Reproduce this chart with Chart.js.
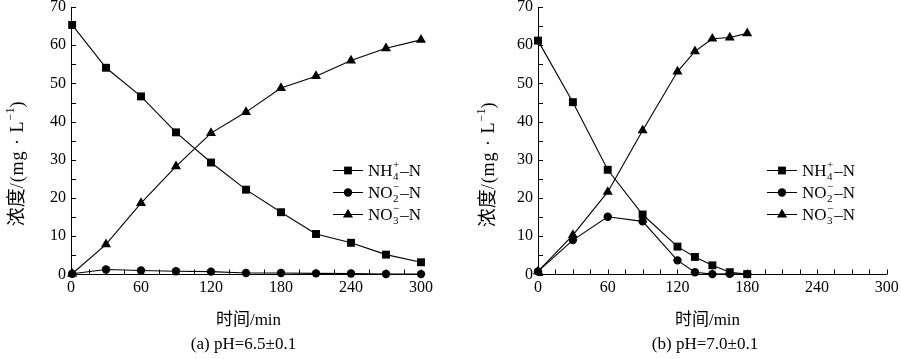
<!DOCTYPE html>
<html><head><meta charset="utf-8">
<script src="https://cdn.jsdelivr.net/npm/chart.js@4.4.0/dist/chart.umd.min.js"></script>
<style>
html,body{margin:0;padding:0;background:#fff;width:901px;height:359px;overflow:hidden;}
canvas{position:absolute;top:0;}
#c1{left:0;} #c2{left:450px;}
</style></head><body>
<canvas id="c1" width="450" height="359"></canvas>
<canvas id="c2" width="451" height="359"></canvas>
<script>
// ---- data ----
const timeA = [1, 30, 60, 90, 120, 150, 180, 210, 240, 270, 300];
const nh4A  = [65.3, 54.1, 46.6, 37.2, 29.3, 22.2, 16.3, 10.6, 8.3, 5.2, 3.2];
const no2A  = [0.2, 1.3, 1.05, 0.85, 0.75, 0.4, 0.4, 0.3, 0.25, 0.15, 0.1];
const no3A  = [0.2, 7.9, 18.7, 28.3, 37.0, 42.5, 48.8, 51.9, 56.0, 59.2, 61.4];

const timeB = [0, 30, 60, 90, 120, 135, 150, 165, 180];
const nh4B  = [61.2, 45.1, 27.4, 15.7, 7.3, 4.6, 2.4, 0.6, 0.1];
const no2B  = [0.8, 9.0, 15.1, 13.9, 3.7, 0.6, 0.1, 0.2, 0.1];
const no3B  = [0.8, 10.3, 21.6, 37.7, 53.1, 58.4, 61.7, 62.0, 63.1];

const xTickValues = [0, 60, 120, 180, 240, 300];
const yTickValues = [0, 10, 20, 30, 40, 50, 60, 70];
const legendBase = ['NH', 'NO', 'NO'];
const legendSub  = ['4', '2', '3'];
const legendSup  = ['+', '\u2212', '\u2212'];
const legendTail = '\u2013N';
const markerStyles = ['rect', 'circle', 'triangle'];
const xTitle = '时间/min';
const subTitles = ['(a) pH=6.5\u00b10.1', '(b) pH=7.0\u00b10.1'];

// ---- styling ----
const SERIF = "'Liberation Serif','Noto Sans CJK SC',serif";
const f = sz => sz + 'px ' + SERIF;
Chart.defaults.font.family = SERIF;
Chart.defaults.color = '#000';

function drawMarker(ctx, style, x, y) {
  ctx.beginPath();
  if (style === 'rect') ctx.rect(x - 3.9, y - 3.9, 7.8, 7.8);
  else if (style === 'circle') ctx.arc(x, y, 4.2, 0, Math.PI * 2);
  else { const r = 5.8; ctx.moveTo(x, y - r); ctx.lineTo(x + r * 0.866, y + r * 0.5); ctx.lineTo(x - r * 0.866, y + r * 0.5); ctx.closePath(); }
  ctx.fill();
}

function drawLegendLabel(ctx, x, y, base, sub, sup) {
  const yb = y + 6;
  ctx.textAlign = 'left'; ctx.textBaseline = 'alphabetic';
  ctx.font = f(17); ctx.fillText(base, x, yb);
  let cx = x + ctx.measureText(base).width + 0.5;
  ctx.font = f(11);
  const w1 = ctx.measureText(sub).width, w2 = ctx.measureText(sup).width;
  ctx.fillText(sub, cx, yb + 4);
  ctx.fillText(sup, cx, yb - 8);
  cx += Math.max(w1, w2) + 1;
  ctx.font = f(17); ctx.fillText(legendTail, cx, yb);
}

function drawYTitle(ctx, cx, cy) {
  const segs = [
    {t: '浓度', s: 19, dy: 0, sp: 0},
    {t: '/(mg \u00b7 L', s: 18, dy: 0, sp: 1},
    {t: '\u22121', s: 12, dy: -7, sp: 0},
    {t: ')', s: 18, dy: 0, sp: 0}
  ];
  ctx.save();
  ctx.translate(cx, cy); ctx.rotate(-Math.PI / 2);
  ctx.textBaseline = 'middle'; ctx.textAlign = 'left';
  let total = 0;
  segs.forEach(sg => {
    ctx.font = f(sg.s);
    sg.cw = Array.from(sg.t).map(ch => ctx.measureText(ch).width + sg.sp);
    sg.w = sg.cw.reduce((a, b) => a + b, 0);
    total += sg.w;
  });
  let x = -total / 2;
  segs.forEach(sg => {
    ctx.font = f(sg.s);
    Array.from(sg.t).forEach((ch, k) => { ctx.fillText(ch, x, sg.dy); x += sg.cw[k]; });
  });
  ctx.restore();
}

const decor = {
  id: 'decor',
  afterDraw(chart, args, o) {
    const ctx = chart.ctx, xs = chart.scales.x, ys = chart.scales.y, ca = chart.chartArea;
    ctx.save();
    ctx.strokeStyle = '#000'; ctx.fillStyle = '#000'; ctx.lineWidth = 1;
    // inward ticks
    ctx.beginPath();
    for (let v = 0; v <= 300; v += 15) {
      const px = Math.round(xs.getPixelForValue(v)) + 0.5;
      ctx.moveTo(px, ca.bottom); ctx.lineTo(px, ca.bottom - 5);
    }
    for (let v = 0; v <= 70; v += 5) {
      const py = Math.round(ys.getPixelForValue(v)) + 0.5;
      ctx.moveTo(ca.left, py); ctx.lineTo(ca.left + 5, py);
    }
    ctx.stroke();
    // legend
    for (let i = 0; i < 3; i++) {
      const y = o.legY + i * 22;
      ctx.beginPath(); ctx.moveTo(o.legX, y + 0.5); ctx.lineTo(o.legX + 30, y + 0.5); ctx.stroke();
      drawMarker(ctx, markerStyles[i], o.legX + 15, y + 0.5);
      drawLegendLabel(ctx, o.legX + 35, y, legendBase[i], legendSub[i], legendSup[i]);
    }
    // titles
    ctx.textAlign = 'center'; ctx.textBaseline = 'middle';
    ctx.font = f(17);
    ctx.fillText(xTitle, o.xtX, 321);
    ctx.fillText(o.sub, o.subX, 345);
    drawYTitle(ctx, o.ytX, o.ytY);
    ctx.restore();
  }
};

function makeChart(id, times, series, yW, padR, dec) {
  const datasets = series.map((arr, i) => ({
    data: arr.map((v, k) => ({x: times[k], y: v})),
    borderColor: '#000', backgroundColor: '#000', borderWidth: 1.1,
    pointStyle: markerStyles[i],
    pointRadius: markerStyles[i] === 'rect' ? 5.6 : (markerStyles[i] === 'circle' ? 4.2 : 5.8),
    pointBorderWidth: 0, pointBackgroundColor: '#000',
    tension: 0, clip: false
  }));
  return new Chart(document.getElementById(id), {
    type: 'line',
    data: {datasets},
    options: {
      responsive: false, animation: false, devicePixelRatio: 1,
      layout: {padding: {left: 0, right: padR, top: 7, bottom: 0}},
      plugins: {legend: {display: false}, tooltip: {enabled: false}, decor: dec},
      scales: {
        x: {
          type: 'linear', min: 0, max: 300,
          afterBuildTicks: s => { s.ticks = xTickValues.map(v => ({value: v})); },
          afterFit: s => { s.height = 84.5; s.paddingLeft = 0; s.paddingRight = 0; },
          grid: {display: false, drawTicks: false},
          border: {display: true, color: '#000', width: 1},
          ticks: {font: {size: 16, family: SERIF}, color: '#000', padding: 4, maxRotation: 0, autoSkip: false}
        },
        y: {
          type: 'linear', min: 0, max: 70,
          afterBuildTicks: s => { s.ticks = yTickValues.map(v => ({value: v})); },
          afterFit: s => { s.width = yW; s.paddingTop = 0; s.paddingBottom = 0; },
          grid: {display: false, drawTicks: false},
          border: {display: true, color: '#000', width: 1},
          ticks: {font: {size: 16, family: SERIF}, color: '#000', padding: 5, autoSkip: false}
        }
      }
    },
    plugins: [decor]
  });
}

makeChart('c1', timeA, [nh4A, no2A, no3A], 71, 29,
  {legX: 333, legY: 170, xtX: 248.5, subX: 243.5, sub: subTitles[0], ytX: 18, ytY: 164});
makeChart('c2', timeB, [nh4B, no2B, no3B], 88, 14.3,
  {legX: 317, legY: 170, xtX: 257.5, subX: 255, sub: subTitles[1], ytX: 39, ytY: 165});
</script>
</body></html>
